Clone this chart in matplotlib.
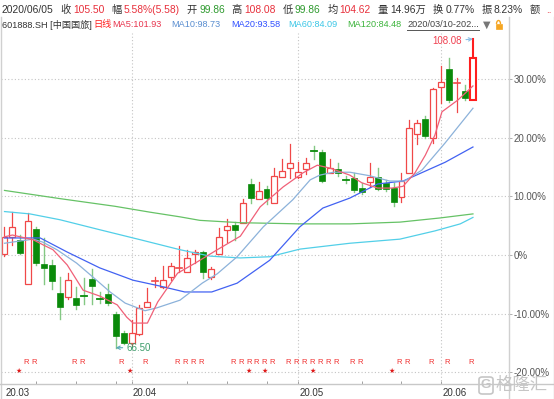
import matplotlib
matplotlib.use('Agg')
import matplotlib.pyplot as plt
from matplotlib.patches import Rectangle, FancyBboxPatch, Arc

W, H = 554, 399
FONT = ['Liberation Sans', 'Noto Sans CJK SC', 'DejaVu Sans']
plt.rcParams['font.family'] = FONT

# ---------------- data (percent change vs. base price) ----------------
opens = [0.2, 3.1, 2.6, -4.9, 4.4, -1.5, -1.7, -6.5, -7.2, -7.3,
         -7.0, -4.1, -7.5, -6.6, -10.1, -13.3, -15.0, -13.5, -8.9, -4.4,
         -5.5, -3.7, -2.2, -2.9, 0.2, 0.5, -3.7, 0.2, 4.3, 5.1,
         5.5, 12.1, 9.5, 11.2, 8.9, 13.3, 14.8, 13.3, 14.7, 17.7,
         17.5, 14.0, 14.7, 12.8, 13.1, 11.4, 12.4, 13.3, 12.3, 11.4,
         9.9, 14.0, 20.6, 23.2, 19.9, 28.6, 31.7, 29.3, 27.9, 26.4]
highs = [4.8, 7.3, 3.4, 7.2, 4.8, 2.9, -0.9, -3.7, -3.1, -5.5,
         -3.9, -2.4, -6.3, -4.9, -9.7, -12.9, -11.1, -8.5, -5.6, -3.7,
         -1.9, -1.4, 1.5, 0.9, 0.9, 0.7, -2.0, 4.6, 6.1, 5.6,
         9.5, 12.9, 12.4, 11.8, 14.8, 16.4, 18.9, 15.8, 16.5, 18.6,
         17.9, 16.4, 15.7, 13.5, 14.0, 12.3, 15.7, 14.8, 12.8, 12.3,
         14.0, 23.0, 23.0, 23.7, 28.5, 32.2, 33.6, 30.2, 29.0, 36.8]
lows = [-0.2, 1.7, 0.2, -4.9, -1.7, -4.9, -5.8, -10.9, -7.5, -9.2,
        -8.3, -8.3, -8.2, -8.5, -15.8, -15.2, -15.5, -13.6, -8.9, -5.5,
        -5.6, -4.3, -2.9, -2.9, -1.4, -3.9, -4.1, 0.2, 2.2, 2.6,
        5.5, 8.9, 9.5, 8.7, 8.9, 13.3, 13.1, 13.1, 13.8, 16.4,
        12.4, 14.0, 13.5, 12.3, 10.7, 10.4, 11.6, 11.1, 10.9, 8.3,
        9.0, 14.0, 18.9, 19.9, 19.1, 25.9, 26.1, 24.4, 26.4, 26.4]
closes = [3.1, 4.8, 0.3, 5.8, -1.4, -2.2, -4.4, -8.9, -4.3, -8.5,
          -7.2, -5.3, -7.7, -8.2, -13.8, -15.0, -13.3, -9.0, -8.0, -4.3,
          -4.3, -1.9, -2.0, -0.5, 0.5, -2.9, -2.4, 3.1, 4.9, 4.3,
          8.9, 9.7, 10.9, 9.7, 13.5, 14.3, 15.7, 14.1, 15.7, 17.5,
          12.6, 14.8, 14.0, 12.6, 11.1, 10.7, 13.3, 11.2, 11.2, 9.0,
          12.6, 21.6, 22.5, 20.3, 28.3, 29.5, 26.4, 29.5, 26.7, 33.5]

ma5_x = [0, 1, 3.6, 4.9, 6.1, 7.9, 9.9, 12, 14.2, 15.4, 16.2, 18, 19.3, 21.8, 24, 26.8,
         29.7, 32.2, 35.1, 37.6, 39.4, 41, 43.5, 45, 47, 48.8, 50.2, 51.7, 53, 54.2,
         55.1, 57.1, 59]
ma5_v = [3.1, 3.4, 2.6, 1.7, 0.9, -1.7, -6.0, -7.0, -8.5, -10.6, -11.6, -11.6, -8.0, -3.1,
         -1.4, 0.9, 3.2, 8.2, 11.6, 14.0, 15.3, 14.8, 13.6, 12.3, 11.4, 11.4, 11.7, 14.0,
         17.0, 20.4, 24.4, 26.4, 28.8]
ma10_x = [0, 3.6, 4.8, 6.6, 9.1, 11.6, 13.3, 15.2, 17.7, 19.2, 22.1, 24.9, 26.8, 29.3,
          32.6, 36.3, 38.5, 39.7, 41.4, 43.5, 46.0, 48.5, 50.4, 52.6, 55.5, 59]
ma10_v = [2.0, 2.7, 2.2, 0.9, -1.4, -4.3, -6.3, -8.2, -9.5, -9.0, -7.7, -4.8, -3.2, -0.3,
          4.8, 9.4, 12.8, 13.6, 14.1, 14.1, 13.5, 12.6, 12.6, 14.5, 19.1, 25.0]
ma20_x = [0, 4.5, 7.9, 12, 16.2, 19.6, 22.7, 26.1, 29.3, 33.4, 37.2, 40.1, 43.5, 47.0,
          50.2, 55.5, 59]
ma20_v = [2.9, 2.9, 0.5, -2.2, -4.3, -5.3, -6.3, -6.3, -4.8, -0.9, 4.8, 8.0, 9.7, 12.1,
          12.6, 15.8, 18.4]
ma60_x = [0, 3.2, 7, 12, 17.1, 22.1, 25.9, 29.7, 33.4, 37.2, 43.5, 49.8, 54.2, 57.4, 59]
ma60_v = [7.4, 7.0, 6.0, 4.3, 2.6, 0.9, -0.2, -0.5, -0.3, 1.0, 2.0, 2.7, 4.1, 5.3, 6.4]
ma120_x = [0, 7, 13.9, 18.3, 22.1, 24.6, 29.7, 37.2, 43.5, 49.8, 54.8, 59]
ma120_v = [11.0, 9.6, 8.3, 7.3, 6.5, 5.9, 5.5, 5.3, 5.3, 5.6, 6.3, 7.0]

y_ticks = [-20, -10, 0, 10, 20, 30]
y_tick_labels = ['-20.00%', '-10.00%', '0%', '10.00%', '20.00%', '30.00%']
month_idx = [0, 16, 37, 55]
month_labels = ['20.03', '20.04', '20.05', '20.06']
month_grid = [16, 37, 55]
week_ticks = [4, 9, 14, 16, 23, 28, 33, 37, 45, 50, 55]
r_marks = [3, 4, 9, 10, 15, 18, 22, 23, 24, 25, 29, 30, 31, 32, 33, 34, 36, 37, 38, 39,
           40, 41, 42, 44, 45, 50, 51, 54, 56, 59]
star_marks = [2, 16, 31, 33, 39, 49]
high_idx, high_val, high_text = 59, 36.8, '108.08'
low_idx, low_val, low_text = 14, -15.8, '66.50'

hdr_date = '2020/06/05'
hdr_labels = ['收', '幅', '开', '高', '低', '均', '量', '换', '振', '额']
hdr_values = ['105.50', '5.58%(5.58)', '99.86', '108.08', '99.86', '104.62',
              '14.96万', '0.77%', '8.23%', '']
ma_labels = ['MA5:101.93', 'MA10:98.73', 'MA20:93.58', 'MA60:84.09', 'MA120:84.48']

# ---------------- styles ----------------
DARK = '#333333'
UPC = '#f04848'
DNB = '#0a8a0a'
DNW = '#84c884'
TXT_RED = '#e8303c'
TXT_GRN = '#2e9a2e'
MA_LINE = ['#f06078', '#8cb2da', '#4262f2', '#52cfe8', '#66c266']
MA_TXT = ['#e8364f', '#5a8ed0', '#3050ff', '#3cc6e6', '#3cb43c']

fig = plt.figure(figsize=(W / 100, H / 100), dpi=100)
fig.patch.set_facecolor('white')
ax = fig.add_axes([1 / W, 1 - 384 / H, 508 / W, 351 / H])
ax.set_xlim(-0.44, 63.54)
ax.set_ylim(-21.98, 37.82)
ax.set_facecolor('white')
for s in ax.spines.values():
    s.set_visible(False)

# grid
ax.set_yticks(y_ticks)
ax.set_yticklabels(y_tick_labels)
ax.yaxis.tick_right()
ax.tick_params(axis='y', length=2.5, width=0.7, color='#b0b0b0', pad=0.8,
               labelsize=7, labelcolor='#555555')
ax.grid(axis='y', linestyle=(0, (1, 2)), color='#c4c4c4', lw=0.8)
ax.set_xticks(week_ticks)
ax.set_xticklabels([])
ax.tick_params(axis='x', direction='in', length=2.5, width=0.7, color='#a0a0a0')
for m in month_grid:
    ax.axvline(m, linestyle=(0, (1, 2)), color='#c4c4c4', lw=0.8, zorder=1)

# candles
bw = 0.75
n = len(closes)
for i in range(n):
    o, h, l, c = opens[i], highs[i], lows[i], closes[i]
    last = (i == n - 1)
    if c >= o:
        col = '#ff1e1e' if last else UPC
        lw = 1.5 if last else 0.9
        if c - o < 0.3:
            ax.plot([i, i], [l, h], color=col, lw=0.9, zorder=3)
            ax.plot([i - bw / 2, i + bw / 2], [o, o], color=col, lw=1.2, zorder=3)
        else:
            ax.plot([i, i], [c, h], color=col, lw=lw, zorder=3)
            ax.plot([i, i], [l, o], color=col, lw=lw, zorder=3)
            ax.add_patch(Rectangle((i - bw / 2, o), bw, c - o, facecolor='white',
                                   edgecolor=col, lw=lw, zorder=3))
    else:
        ax.plot([i, i], [l, h], color=DNW, lw=1.0, zorder=2)
        if o - c < 0.3:
            ax.plot([i - bw / 2, i + bw / 2], [o, o], color=DNB, lw=1.3, zorder=3)
        else:
            ax.add_patch(Rectangle((i - bw / 2, c), bw, o - c, facecolor=DNB,
                                   edgecolor=DNB, lw=0.5, zorder=3))

# moving averages
for (xs, vs), col in zip([(ma120_x, ma120_v), (ma60_x, ma60_v), (ma20_x, ma20_v),
                          (ma10_x, ma10_v), (ma5_x, ma5_v)],
                         [MA_LINE[4], MA_LINE[3], MA_LINE[2], MA_LINE[1], MA_LINE[0]]):
    ax.plot(xs, vs, color=col, lw=0.9, zorder=4)

# high / low annotations
ax.annotate(high_text, xy=(high_idx, high_val), xytext=(57.6, 36.4),
            ha='right', va='center', fontsize=7, color='#f04050',
            arrowprops=dict(arrowstyle='->', color='#8abde6', lw=0.8,
                            shrinkA=1, shrinkB=0, mutation_scale=6), zorder=6)
ax.annotate(low_text, xy=(low_idx, low_val), xytext=(15.4, -15.8),
            ha='left', va='center', fontsize=7, color='#3c9c6a',
            arrowprops=dict(arrowstyle='->', color='#5aaab8', lw=0.8,
                            shrinkA=1, shrinkB=0, mutation_scale=6), zorder=6)

# R / star markers
for r in r_marks:
    ax.text(r - 0.25, 0.06, 'R', transform=ax.get_xaxis_transform(), ha='center',
            va='center', fontsize=5.5, color='#f03030', zorder=5)
for s in star_marks:
    ax.text(s - 0.2, 0.038, '★', transform=ax.get_xaxis_transform(), ha='center',
            va='center', fontsize=5, color='#e01818', family='DejaVu Sans', zorder=5)

# month labels
for mi, ml in zip(month_idx, month_labels):
    ax.annotate(ml, xy=(mi, 0), xycoords=('data', 'axes fraction'),
                xytext=(0.8, -6.6), textcoords='offset points', ha='left', va='center',
                fontsize=7, color=DARK, annotation_clip=False)

# ---------------- frame lines ----------------
def fline(x0, y0, x1, y1, **kw):
    fig.add_artist(plt.Line2D([x0 / W, x1 / W], [1 - y0 / H, 1 - y1 / H],
                              transform=fig.transFigure, **kw))

fline(0.5, 17, 0.5, 399, color='#d0d0d0', lw=1)
fline(508.5, 17, 508.5, 399, color='#d0d0d0', lw=1)
fline(553.5, 17, 553.5, 399, color='#d0d0d0', lw=1)
fline(0, 384, 554, 384, color='#c8c8c8', lw=1)

# ---------------- header ----------------
def ptext(x, y, s, **kw):
    return fig.text(x / W, 1 - y / H, s, **kw)

renderer = fig.canvas.get_renderer()
Y1 = 10
x = 2
t = ptext(x, Y1, hdr_date, fontsize=7.4, color=DARK, va='center', ha='left')
x = t.get_window_extent(renderer).x1 + 7
val_cols = [TXT_RED, TXT_RED, TXT_GRN, TXT_RED, TXT_GRN, TXT_RED, DARK, DARK, DARK, DARK]
for lab, val, vc in zip(hdr_labels, hdr_values, val_cols):
    t = ptext(x, Y1, lab, fontsize=7.4, color=DARK, va='center', ha='left')
    x = t.get_window_extent(renderer).x1 + 2
    if val:
        t = ptext(x, Y1, val, fontsize=7.4, color=vc, va='center', ha='left')
        x = t.get_window_extent(renderer).x1 + 7
ptext(546, Y1, '..', fontsize=7.4, color=TXT_RED, va='center', ha='left')

Y2 = 24.5
ptext(2, Y2, '601888.SH [中国国旅]', fontsize=6.6, color=DARK, va='center', ha='left')
ptext(93, Y2, '日线', fontsize=6.6, color='#ff2020', va='center', ha='left')
for lab, xx, col in zip(ma_labels, [112, 171, 231, 288, 347], MA_TXT):
    ptext(xx, Y2, lab, fontsize=6.6, color=col, va='center', ha='left')
t = ptext(407, Y2, '2020/03/10-202...', fontsize=6.6, color='#444444', va='center', ha='left')
bb = t.get_window_extent(renderer)
fline(bb.x0, 29.5, bb.x1, 29.5, color='#555555', lw=0.7)
ptext(483, Y2, '▼', fontsize=7, color='#777777', va='center', ha='left', family='DejaVu Sans')
fig.add_artist(Rectangle((495.5 / W, 1 - 29 / H), 6 / W, 5 / H, transform=fig.transFigure,
                         facecolor='#f5a623', edgecolor='#f5a623', lw=0.5))
fig.add_artist(Arc((498.5 / W, 1 - 24 / H), 4 / W, 7 / H, theta1=0, theta2=180,
                   transform=fig.transFigure, color='#f5a623', lw=1))

# ---------------- watermark ----------------
fig.add_artist(FancyBboxPatch((479 / W, 1 - 394 / H), 14 / W, 17 / H,
                              boxstyle='round,pad=0,rounding_size=0.006',
                              transform=fig.transFigure, facecolor='none',
                              edgecolor='#c6c6c6', lw=1.2))
ptext(486, 385.5, 'G', fontsize=9.5, color='#c6c6c6', va='center', ha='center',
      fontweight='bold')
ptext(496, 385, '格隆汇', fontsize=12.5, color='#c6c6c6', va='center', ha='left')

fig.savefig('out.png', dpi=100, facecolor='white')
